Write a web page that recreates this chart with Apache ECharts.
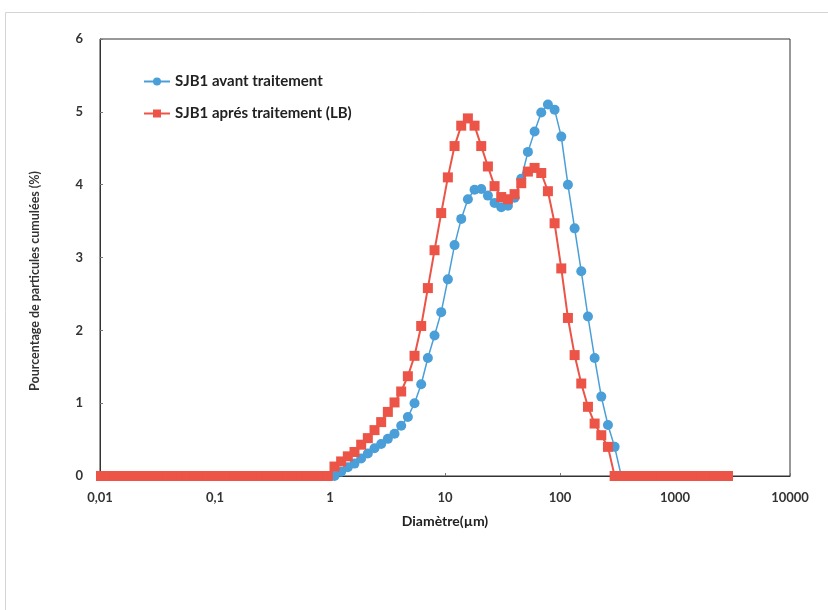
<!DOCTYPE html>
<html>
<head>
<meta charset="utf-8">
<title>Distribution granulométrique SJB1</title>
<script src="https://cdn.jsdelivr.net/npm/echarts@6/dist/echarts.min.js"></script>
<style>
  html, body { margin: 0; padding: 0; background: #ffffff; }
  #chart { width: 828px; height: 610px; }
</style>
</head>
<body>
<div id="chart"></div>
<script>
// Particle size classes (µm)
const sizes = [
  0.0102, 0.0117, 0.0133, 0.0153, 0.0174, 0.0199, 0.0228, 0.0260, 0.0297, 0.0340,
  0.0388, 0.0444, 0.0507, 0.0580, 0.0662, 0.0757, 0.0865, 0.0989, 0.1130, 0.1291,
  0.1476, 0.1687, 0.1928, 0.2203, 0.2518, 0.2877, 0.3289, 0.3758, 0.4295, 0.4909,
  0.5610, 0.6412, 0.7328, 0.8375, 0.9572,
  1.094, 1.250, 1.429, 1.633, 1.867, 2.133, 2.438, 2.786, 3.185, 3.640,
  4.160, 4.754, 5.433, 6.209, 7.097, 8.110, 9.269, 10.59, 12.11, 13.84,
  15.81, 18.07, 20.66, 23.61, 26.98, 30.83, 35.24, 40.27, 46.03, 52.60,
  60.12, 68.71, 78.52, 89.74, 102.6, 117.2, 134.0, 153.1, 175.0, 200.0,
  228.6, 261.2, 298.6, 341.2, 390.0, 445.7, 509.4, 582.2, 665.4, 760.5,
  869.0, 993.1, 1135, 1297, 1483, 1694, 1936, 2213, 2529, 2891
];

// SJB1 before treatment (% per class)
const avantTraitement = [
  0, 0, 0, 0, 0, 0, 0, 0, 0, 0,
  0, 0, 0, 0, 0, 0, 0, 0, 0, 0,
  0, 0, 0, 0, 0, 0, 0, 0, 0, 0,
  0, 0, 0, 0, 0,
  0.00, 0.06, 0.12, 0.17, 0.24, 0.31, 0.38, 0.44, 0.51, 0.58,
  0.69, 0.81, 1.00, 1.26, 1.62, 1.93, 2.25, 2.70, 3.17, 3.53,
  3.80, 3.93, 3.94, 3.85, 3.75, 3.69, 3.71, 3.82, 4.08, 4.45,
  4.73, 4.99, 5.10, 5.03, 4.66, 4.00, 3.40, 2.81, 2.19, 1.62,
  1.09, 0.70, 0.40, 0, 0, 0, 0, 0, 0, 0,
  0, 0, 0, 0, 0, 0, 0, 0, 0, 0
];

// SJB1 after treatment (LB) (% per class)
const apresTraitement = [
  0, 0, 0, 0, 0, 0, 0, 0, 0, 0,
  0, 0, 0, 0, 0, 0, 0, 0, 0, 0,
  0, 0, 0, 0, 0, 0, 0, 0, 0, 0,
  0, 0, 0, 0, 0,
  0.13, 0.20, 0.27, 0.33, 0.43, 0.52, 0.63, 0.74, 0.88, 1.01,
  1.16, 1.37, 1.65, 2.06, 2.58, 3.10, 3.61, 4.10, 4.53, 4.81,
  4.91, 4.81, 4.53, 4.25, 3.98, 3.83, 3.80, 3.87, 4.02, 4.18,
  4.23, 4.16, 3.91, 3.47, 2.85, 2.17, 1.66, 1.27, 0.95, 0.72,
  0.56, 0.40, 0, 0, 0, 0, 0, 0, 0, 0,
  0, 0, 0, 0, 0, 0, 0, 0, 0, 0
];

// Axis tick labels (decimal comma)
const xTickLabels = ['0,01', '0,1', '1', '10', '100', '1000', '10000'];
const yTickLabels = ['0', '1', '2', '3', '4', '5', '6'];

const seriesNames = ['SJB1 avant traitement', 'SJB1 aprés traitement (LB)'];
const blue = '#4a9fd8';
const red = '#ec5448';
const font = 'Lato, "Open Sans", sans-serif';

const chart = echarts.init(document.getElementById('chart'), null, { renderer: 'canvas' });

chart.setOption({
  animation: false,
  backgroundColor: '#ffffff',
  textStyle: { fontFamily: font },
  grid: {
    left: 100, right: 38, top: 39, bottom: 134,
    show: true, borderColor: '#333333', borderWidth: 1, backgroundColor: 'transparent'
  },
  legend: {
    orient: 'vertical',
    left: 138, top: 69,
    itemGap: 17,
    itemWidth: 26, itemHeight: 10,
    data: seriesNames,
    textStyle: { fontFamily: font, fontSize: 15, fontWeight: 'bold', color: '#222222' }
  },
  xAxis: {
    type: 'log', logBase: 10, min: 0.01, max: 10000,
    name: 'Diamètre(µm)', nameLocation: 'middle', nameGap: 38,
    nameTextStyle: { fontFamily: font, fontSize: 14, fontWeight: 'bold', color: '#222222' },
    axisLine: { show: true, lineStyle: { color: '#333333', width: 1 } },
    axisTick: { show: true, inside: true, length: 3, lineStyle: { color: '#777777' } },
    splitLine: { show: false },
    axisLabel: {
      margin: 15, fontFamily: font, fontSize: 13, fontWeight: 'bold', color: '#333333',
      formatter: v => xTickLabels[Math.round(Math.log10(v)) + 2]
    }
  },
  yAxis: {
    type: 'value', min: 0, max: 6, interval: 1,
    axisLine: { show: true, lineStyle: { color: '#333333', width: 1 } },
    axisTick: { show: true, inside: true, length: 3, lineStyle: { color: '#777777' } },
    splitLine: { show: false },
    axisLabel: {
      margin: 17, fontFamily: font, fontSize: 13, fontWeight: 'bold', color: '#333333',
      formatter: v => yTickLabels[Math.round(v)]
    }
  },
  graphic: [
    {
      type: 'rect', silent: true, z: -1,
      shape: { x: 5.5, y: 12.5, width: 900, height: 700 },
      style: { fill: 'none', stroke: '#d4d4d4', lineWidth: 1 }
    },
    {
      type: 'text', silent: true,
      x: 35, y: 281, rotation: Math.PI / 2,
      style: {
        text: 'Pourcentage de particules cumulées (%)',
        fontFamily: font, fontSize: 12.5, fontWeight: 'bold', fill: '#333333',
        align: 'center', verticalAlign: 'middle'
      }
    }
  ],
  series: [
    {
      name: seriesNames[0], type: 'line',
      data: sizes.map((d, i) => [d, avantTraitement[i]]),
      symbol: 'circle', symbolSize: 10,
      itemStyle: { color: blue },
      lineStyle: { color: blue, width: 1.5 },
      z: 2
    },
    {
      name: seriesNames[1], type: 'line',
      data: sizes.map((d, i) => [d, apresTraitement[i]]),
      symbol: 'rect', symbolSize: 10,
      itemStyle: { color: red },
      lineStyle: { color: red, width: 2 },
      z: 3
    }
  ]
});
</script>
</body>
</html>
